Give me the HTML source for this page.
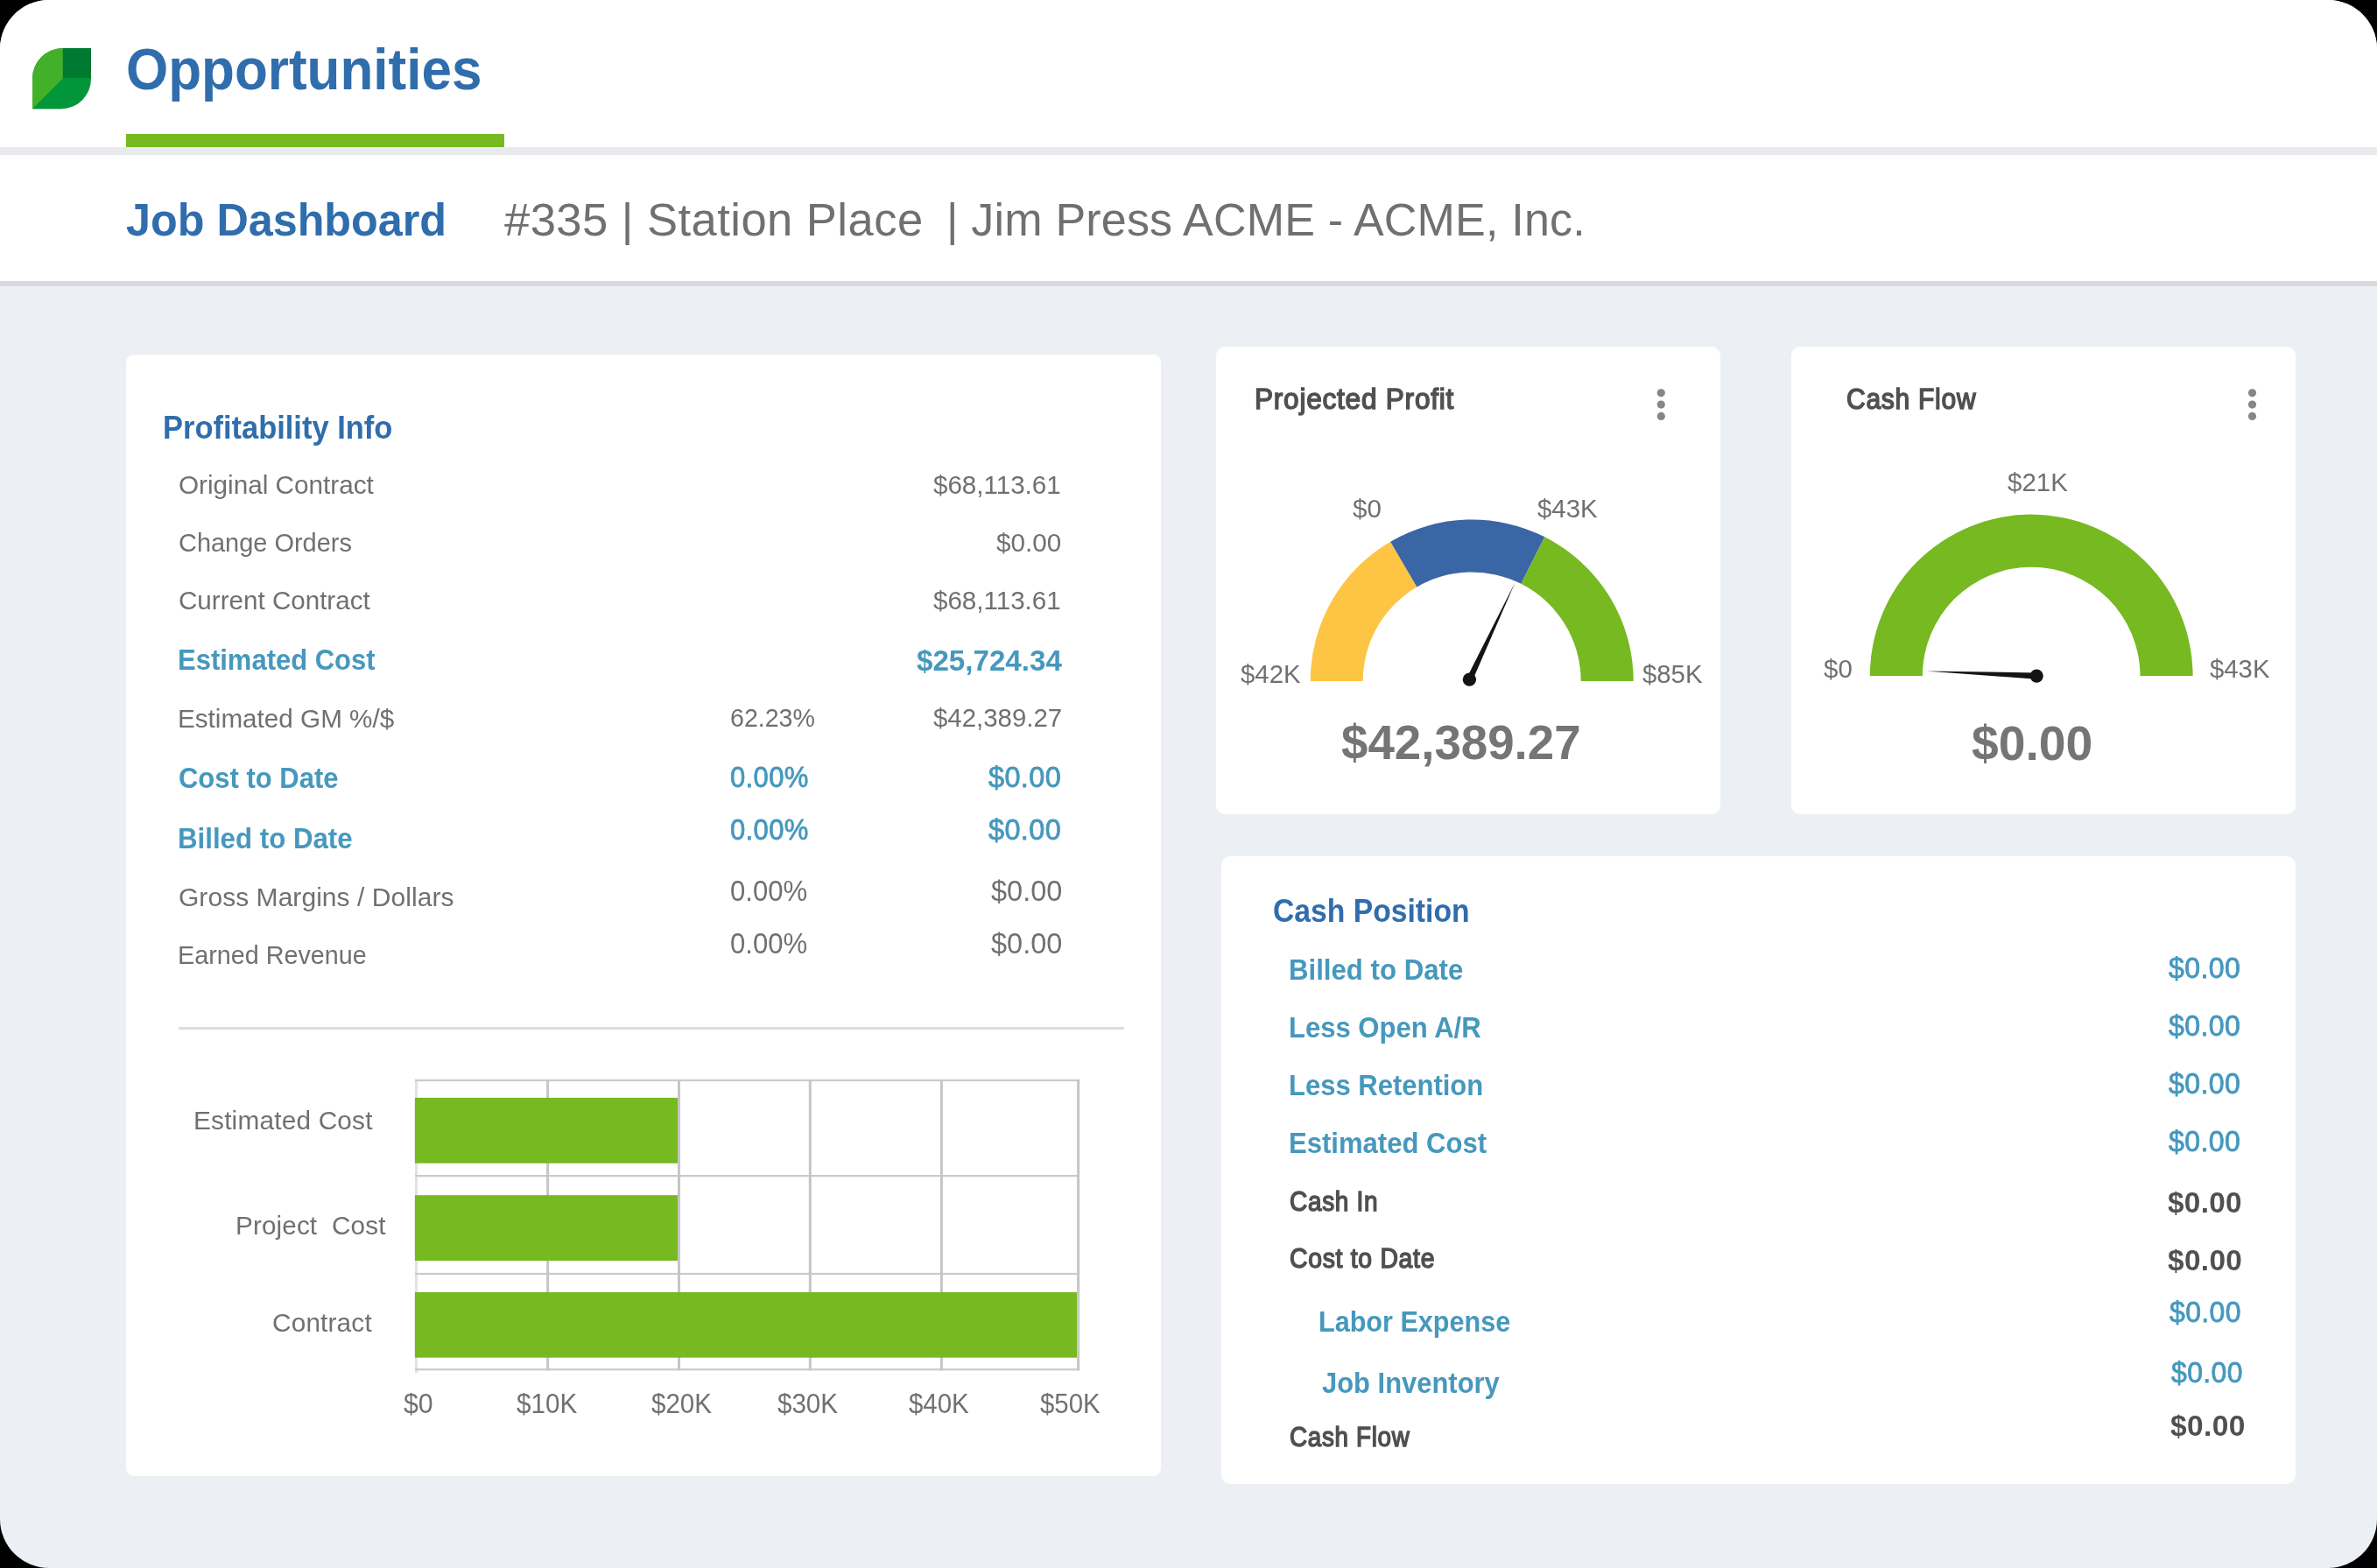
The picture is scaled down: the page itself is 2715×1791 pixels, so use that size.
<!DOCTYPE html>
<html><head><meta charset="utf-8"><title>Job Dashboard</title>
<style>
html,body{margin:0;padding:0;background:#000;}
body{width:2715px;height:1791px;overflow:hidden;font-family:"Liberation Sans",sans-serif;}
#app{position:absolute;left:0;top:0;width:2715px;height:1791px;background:#ECEFF4;border-radius:56px;overflow:hidden;}
.abs{position:absolute;}
.card{position:absolute;background:#fff;border-radius:10px;}
.t{position:absolute;white-space:pre;line-height:1;transform-origin:0 0;}
svg{position:absolute;left:0;top:0;}
</style></head><body>
<div id="app">
<div class="abs" style="left:0;top:0;width:2715px;height:168px;background:#fff"></div>
<div class="abs" style="left:0;top:168px;width:2715px;height:9px;background:#E8EAEE"></div>
<div class="abs" style="left:144px;top:153px;width:431.6px;height:15px;background:#76B921"></div>
<div class="abs" style="left:0;top:177px;width:2715px;height:144px;background:#fff"></div>
<div class="abs" style="left:0;top:321px;width:2715px;height:6px;background:#D9DADE"></div>
<div class="card" style="left:144px;top:405px;width:1182px;height:1280.5px;border-radius:9px"></div>
<div class="card" style="left:1389px;top:396px;width:576px;height:533.5px"></div>
<div class="card" style="left:2046px;top:396px;width:576px;height:533.5px"></div>
<div class="card" style="left:1395px;top:978px;width:1227px;height:716.5px"></div>
<div class="abs" style="left:204px;top:1173px;width:1080px;height:3px;background:#DCDDDF"></div>
<svg width="2715" height="1791" viewBox="0 0 2715 1791">
<g>
<path d="M71.7 55 H104 V90 A34.5 34.5 0 0 1 69.5 124.5 H37 V89.7 A34.7 34.7 0 0 1 71.7 55 Z" fill="#009639"/>
<path d="M72.2 55 A34.7 34.7 0 0 0 37 89.7 V124.5 L72.2 88.9 Z" fill="#43B02A"/>
<path d="M71.7 55 H104 V88.9 H71.7 Z" fill="#007A33"/>
</g>
<rect x="473.9" y="1232.8" width="3" height="335.5" fill="#E2E2E4"/><rect x="474" y="1232.9" width="759.2" height="2.2" fill="#CACACC"/><rect x="474" y="1342.0" width="759.2" height="2.2" fill="#CACACC"/><rect x="474" y="1453.9" width="759.2" height="2.2" fill="#CACACC"/><rect x="474" y="1563.2" width="759.2" height="2.2" fill="#CACACC"/><rect x="624.1" y="1233" width="3" height="332.3" fill="#C6C6C8"/><rect x="774.0" y="1233" width="3" height="332.3" fill="#C6C6C8"/><rect x="923.8" y="1233" width="3" height="332.3" fill="#C6C6C8"/><rect x="1073.9" y="1233" width="3" height="332.3" fill="#C6C6C8"/><rect x="1230.1" y="1233" width="3" height="332.3" fill="#C6C6C8"/><rect x="473.9" y="1253.9" width="300.1" height="74.8" fill="#76B921"/><rect x="473.9" y="1365.2" width="300.1" height="74.8" fill="#76B921"/><rect x="473.9" y="1475.9" width="756.1" height="74.8" fill="#76B921"/>
<path fill="#FDC543" d="M1496.70 778.00 A184.5 184.5 0 0 1 1588.11 618.70 L1618.39 670.51 A124.5 124.5 0 0 0 1556.70 778.00 Z"/><path fill="#3A66A5" d="M1588.11 618.70 A184.5 184.5 0 0 1 1764.39 613.32 L1737.33 666.87 A124.5 124.5 0 0 0 1618.39 670.51 Z"/><path fill="#76B921" d="M1764.39 613.32 A184.5 184.5 0 0 1 1865.70 778.00 L1805.70 778.00 A124.5 124.5 0 0 0 1737.33 666.87 Z"/><path fill="#141414" d="M1681.66 777.73 L1730.80 664.80 L1675.14 774.67 Z"/><circle cx="1678.40" cy="776.20" r="7.65" fill="#141414"/>
<path fill="#76B921" d="M2135.80 772.00 A184.4 184.4 0 0 1 2504.60 772.00 L2444.50 772.00 A124.3 124.3 0 0 0 2195.90 772.00 Z"/><path fill="#141414" d="M2326.36 768.45 L2200.30 766.50 L2326.04 775.65 Z"/><circle cx="2326.20" cy="772.05" r="7.6" fill="#141414"/>
<circle cx="1897.3" cy="448.8" r="4.6" fill="#868688"/><circle cx="1897.3" cy="462.1" r="4.6" fill="#868688"/><circle cx="1897.3" cy="475.4" r="4.6" fill="#868688"/>
<circle cx="2572.5" cy="448.8" r="4.6" fill="#868688"/><circle cx="2572.5" cy="462.1" r="4.6" fill="#868688"/><circle cx="2572.5" cy="475.4" r="4.6" fill="#868688"/>
</svg>
<div id="txt" style="position:absolute;left:0;top:0;width:2715px;height:1791px;will-change:transform">
<span class="t" style="left:143.69px;top:46.30px;font-size:66.29px;color:#306DAC;font-weight:700;transform:scaleX(0.9354)">Opportunities</span>
<span class="t" style="left:144.14px;top:225.40px;font-size:52.62px;color:#306DAC;font-weight:700;transform:scaleX(0.9559)">Job Dashboard</span>
<span class="t" style="left:575.70px;top:226.30px;font-size:51.61px;color:#707072;font-weight:400;letter-spacing:0.452px;transform:scaleX(1.0182)">#335 | Station Place</span>
<span class="t" style="left:1081.47px;top:226.30px;font-size:51.61px;color:#707072;font-weight:400;letter-spacing:0.186px;transform:scaleX(1.0077)">| Jim Press ACME - ACME, Inc.</span>
<span class="t" style="left:185.63px;top:471.20px;font-size:36.94px;color:#306DAC;font-weight:700;transform:scaleX(0.9335)">Profitability Info</span>
<span class="t" style="left:204.30px;top:539.20px;font-size:29.85px;color:#707072;font-weight:400;transform:scaleX(0.9951)">Original Contract</span>
<span class="t" style="left:204.33px;top:605.00px;font-size:29.85px;color:#707072;font-weight:400;transform:scaleX(0.9698)">Change Orders</span>
<span class="t" style="left:204.31px;top:670.90px;font-size:29.85px;color:#707072;font-weight:400;transform:scaleX(0.9914)">Current Contract</span>
<span class="t" style="left:203.44px;top:737.30px;font-size:33.4px;color:#4698BD;font-weight:700;transform:scaleX(0.9282)">Estimated Cost</span>
<span class="t" style="left:203.31px;top:805.80px;font-size:29.85px;color:#707072;font-weight:400;transform:scaleX(0.9935)">Estimated GM %/$</span>
<span class="t" style="left:203.77px;top:871.90px;font-size:33.4px;color:#4698BD;font-weight:700;transform:scaleX(0.9277)">Cost to Date</span>
<span class="t" style="left:202.83px;top:940.80px;font-size:33.4px;color:#4698BD;font-weight:700;transform:scaleX(0.9357)">Billed to Date</span>
<span class="t" style="left:203.70px;top:1010.20px;font-size:29.85px;color:#707072;font-weight:400;letter-spacing:0.070px;transform:scaleX(1.0035)">Gross Margins / Dollars</span>
<span class="t" style="left:202.77px;top:1076.00px;font-size:29.85px;color:#707072;font-weight:400;transform:scaleX(0.9629)">Earned Revenue</span>
<span class="t" style="left:1066.00px;top:538.70px;font-size:29.96px;color:#707072;font-weight:400;transform:scaleX(0.9863)">$68,113.61</span>
<span class="t" style="left:1138.20px;top:604.80px;font-size:29.96px;color:#707072;font-weight:400;transform:scaleX(0.9892)">$0.00</span>
<span class="t" style="left:1066.00px;top:670.90px;font-size:29.96px;color:#707072;font-weight:400;transform:scaleX(0.9863)">$68,113.61</span>
<span class="t" style="left:1047.33px;top:736.50px;font-size:34.09px;color:#4698BD;font-weight:700;transform:scaleX(0.9722)">$25,724.34</span>
<span class="t" style="left:834.05px;top:805.40px;font-size:29.96px;color:#707072;font-weight:400;transform:scaleX(0.9530)">62.23%</span>
<span class="t" style="left:1066.00px;top:805.40px;font-size:29.96px;color:#707072;font-weight:400;transform:scaleX(0.9819)">$42,389.27</span>
<span class="t" style="left:834.08px;top:871.20px;font-size:33.57px;color:#4698BD;font-weight:400;-webkit-text-stroke:0.8px #4698BD;letter-spacing:0.400px;transform:scaleX(0.9242)">0.00%</span>
<span class="t" style="left:1129.30px;top:871.20px;font-size:33.57px;color:#4698BD;font-weight:400;-webkit-text-stroke:0.8px #4698BD;letter-spacing:0.400px;transform:scaleX(0.9659)">$0.00</span>
<span class="t" style="left:834.08px;top:931.40px;font-size:33.57px;color:#4698BD;font-weight:400;-webkit-text-stroke:0.8px #4698BD;letter-spacing:0.400px;transform:scaleX(0.9242)">0.00%</span>
<span class="t" style="left:1129.30px;top:931.40px;font-size:33.57px;color:#4698BD;font-weight:400;-webkit-text-stroke:0.8px #4698BD;letter-spacing:0.400px;transform:scaleX(0.9659)">$0.00</span>
<span class="t" style="left:834.06px;top:1000.80px;font-size:33.06px;color:#707072;font-weight:400;transform:scaleX(0.9413)">0.00%</span>
<span class="t" style="left:1132.00px;top:1000.80px;font-size:33.06px;color:#707072;font-weight:400;transform:scaleX(0.9829)">$0.00</span>
<span class="t" style="left:834.06px;top:1061.00px;font-size:33.06px;color:#707072;font-weight:400;transform:scaleX(0.9413)">0.00%</span>
<span class="t" style="left:1132.00px;top:1061.00px;font-size:33.06px;color:#707072;font-weight:400;transform:scaleX(0.9829)">$0.00</span>
<span class="t" style="left:221.27px;top:1264.80px;font-size:29.35px;color:#707072;font-weight:400;letter-spacing:0.190px;transform:scaleX(1.0151)">Estimated Cost</span>
<span class="t" style="left:268.68px;top:1385.00px;font-size:29.35px;color:#707072;font-weight:400;letter-spacing:0.148px;transform:scaleX(1.0095)">Project  Cost</span>
<span class="t" style="left:311.49px;top:1496.00px;font-size:29.35px;color:#707072;font-weight:400;letter-spacing:0.177px;transform:scaleX(1.0135)">Contract</span>
<span class="t" style="left:461.11px;top:1588.30px;font-size:30.47px;color:#707072;font-weight:400;transform:scaleX(0.9937)">$0</span>
<span class="t" style="left:590.43px;top:1588.30px;font-size:30.47px;color:#707072;font-weight:400;transform:scaleX(0.9714)">$10K</span>
<span class="t" style="left:743.53px;top:1588.30px;font-size:30.47px;color:#707072;font-weight:400;transform:scaleX(0.9686)">$20K</span>
<span class="t" style="left:887.53px;top:1588.30px;font-size:30.47px;color:#707072;font-weight:400;transform:scaleX(0.9700)">$30K</span>
<span class="t" style="left:1037.73px;top:1588.30px;font-size:30.47px;color:#707072;font-weight:400;transform:scaleX(0.9657)">$40K</span>
<span class="t" style="left:1187.93px;top:1588.30px;font-size:30.47px;color:#707072;font-weight:400;transform:scaleX(0.9657)">$50K</span>
<span class="t" style="left:1433.07px;top:439.80px;font-size:32.69px;color:#505052;font-weight:400;-webkit-text-stroke:1.5px #505052;letter-spacing:0.800px;transform:scaleX(0.9658)">Projected Profit</span>
<span class="t" style="left:1545.40px;top:565.80px;font-size:29.96px;color:#707072;font-weight:400;transform:scaleX(0.9875)">$0</span>
<span class="t" style="left:1755.70px;top:565.80px;font-size:29.96px;color:#707072;font-weight:400;transform:scaleX(0.9812)">$43K</span>
<span class="t" style="left:1416.90px;top:754.60px;font-size:29.96px;color:#707072;font-weight:400;transform:scaleX(0.9812)">$42K</span>
<span class="t" style="left:1875.60px;top:754.60px;font-size:29.96px;color:#707072;font-weight:400;transform:scaleX(0.9783)">$85K</span>
<span class="t" style="left:1531.52px;top:820.80px;font-size:55.78px;color:#757578;font-weight:700;transform:scaleX(0.9801)">$42,389.27</span>
<span class="t" style="left:2109.28px;top:440.00px;font-size:32.69px;color:#505052;font-weight:400;-webkit-text-stroke:1.5px #505052;letter-spacing:0.800px;transform:scaleX(0.9180)">Cash Flow</span>
<span class="t" style="left:2292.70px;top:535.90px;font-size:29.96px;color:#707072;font-weight:400;transform:scaleX(0.9841)">$21K</span>
<span class="t" style="left:2082.50px;top:748.60px;font-size:29.96px;color:#707072;font-weight:400;transform:scaleX(0.9844)">$0</span>
<span class="t" style="left:2523.80px;top:748.60px;font-size:29.96px;color:#707072;font-weight:400;transform:scaleX(0.9783)">$43K</span>
<span class="t" style="left:2252.01px;top:821.70px;font-size:55.78px;color:#757578;font-weight:700;transform:scaleX(0.9912)">$0.00</span>
<span class="t" style="left:1454.09px;top:1023.00px;font-size:36.94px;color:#306DAC;font-weight:700;transform:scaleX(0.9123)">Cash Position</span>
<span class="t" style="left:1471.83px;top:1090.80px;font-size:33.4px;color:#4698BD;font-weight:700;transform:scaleX(0.9338)">Billed to Date</span>
<span class="t" style="left:1471.84px;top:1157.00px;font-size:33.4px;color:#4698BD;font-weight:700;transform:scaleX(0.9295)">Less Open A/R</span>
<span class="t" style="left:1471.84px;top:1223.10px;font-size:33.4px;color:#4698BD;font-weight:700;transform:scaleX(0.9284)">Less Retention</span>
<span class="t" style="left:1471.84px;top:1289.00px;font-size:33.4px;color:#4698BD;font-weight:700;transform:scaleX(0.9303)">Estimated Cost</span>
<span class="t" style="left:1472.80px;top:1357.50px;font-size:30.87px;color:#505052;font-weight:400;-webkit-text-stroke:1.5px #505052;letter-spacing:0.800px;transform:scaleX(0.9046)">Cash In</span>
<span class="t" style="left:1472.78px;top:1423.40px;font-size:30.87px;color:#505052;font-weight:400;-webkit-text-stroke:1.5px #505052;letter-spacing:0.800px;transform:scaleX(0.9173)">Cost to Date</span>
<span class="t" style="left:1506.17px;top:1492.90px;font-size:33.4px;color:#4698BD;font-weight:700;transform:scaleX(0.9157)">Labor Expense</span>
<span class="t" style="left:1509.77px;top:1562.50px;font-size:33.4px;color:#4698BD;font-weight:700;transform:scaleX(0.9261)">Job Inventory</span>
<span class="t" style="left:1472.80px;top:1627.40px;font-size:30.87px;color:#505052;font-weight:400;-webkit-text-stroke:1.5px #505052;letter-spacing:0.800px;transform:scaleX(0.8987)">Cash Flow</span>
<span class="t" style="left:2477.40px;top:1089.00px;font-size:33.06px;color:#4698BD;font-weight:400;-webkit-text-stroke:0.8px #4698BD;letter-spacing:0.400px;transform:scaleX(0.9702)">$0.00</span>
<span class="t" style="left:2477.40px;top:1155.10px;font-size:33.06px;color:#4698BD;font-weight:400;-webkit-text-stroke:0.8px #4698BD;letter-spacing:0.400px;transform:scaleX(0.9702)">$0.00</span>
<span class="t" style="left:2477.40px;top:1221.00px;font-size:33.06px;color:#4698BD;font-weight:400;-webkit-text-stroke:0.8px #4698BD;letter-spacing:0.400px;transform:scaleX(0.9702)">$0.00</span>
<span class="t" style="left:2477.40px;top:1287.10px;font-size:33.06px;color:#4698BD;font-weight:400;-webkit-text-stroke:0.8px #4698BD;letter-spacing:0.400px;transform:scaleX(0.9702)">$0.00</span>
<span class="t" style="left:2476.39px;top:1357.00px;font-size:33.06px;color:#505052;font-weight:700;letter-spacing:0.320px;transform:scaleX(1.0073)">$0.00</span>
<span class="t" style="left:2476.49px;top:1423.30px;font-size:33.06px;color:#505052;font-weight:700;letter-spacing:0.344px;transform:scaleX(1.0098)">$0.00</span>
<span class="t" style="left:2477.50px;top:1482.10px;font-size:33.06px;color:#4698BD;font-weight:400;-webkit-text-stroke:0.8px #4698BD;letter-spacing:0.400px;transform:scaleX(0.9667)">$0.00</span>
<span class="t" style="left:2480.40px;top:1551.00px;font-size:33.06px;color:#4698BD;font-weight:400;-webkit-text-stroke:0.8px #4698BD;letter-spacing:0.400px;transform:scaleX(0.9667)">$0.00</span>
<span class="t" style="left:2479.39px;top:1612.30px;font-size:33.06px;color:#505052;font-weight:700;letter-spacing:0.380px;transform:scaleX(1.0134)">$0.00</span>
</div>
</div>
</body></html>
